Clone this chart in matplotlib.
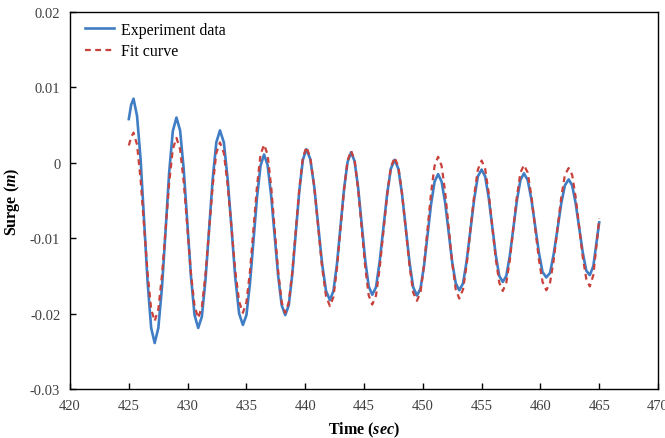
import matplotlib
matplotlib.use('Agg')
from matplotlib import pyplot as plt
import numpy as np

# time axis (sec), shared by both series
time = [425.0, 425.2, 425.4,
        425.7, 426.0, 426.3, 426.6, 426.9, 427.2,
        427.51, 427.82, 428.13, 428.43, 428.74, 429.05,
        429.36, 429.67, 429.98, 430.28, 430.59, 430.9,
        431.21, 431.52, 431.83, 432.13, 432.44, 432.75,
        433.08, 433.40, 433.73, 434.05, 434.38, 434.7,
        435.0, 435.3, 435.6, 435.9, 436.2, 436.5,
        436.8, 437.1, 437.4, 437.7, 438.0, 438.3,
        438.6, 438.9, 439.2, 439.5, 439.8, 440.1,
        440.43, 440.77, 441.1, 441.43, 441.77, 442.1,
        442.4, 442.7, 443.0, 443.3, 443.6, 443.9,
        444.2, 444.5, 444.8, 445.1, 445.4, 445.7,
        446.02, 446.33, 446.65, 446.97, 447.28, 447.6,
        447.92, 448.23, 448.55, 448.87, 449.18, 449.5,
        449.8, 450.1, 450.4, 450.7, 451.0, 451.3,
        451.6, 451.9, 452.2, 452.5, 452.8, 453.1,
        453.42, 453.73, 454.05, 454.37, 454.68, 455.0,
        455.3, 455.6, 455.9, 456.2, 456.5, 456.8,
        457.1, 457.4, 457.7, 458.0, 458.3, 458.6,
        458.92, 459.23, 459.55, 459.87, 460.18, 460.5,
        460.82, 461.13, 461.45, 461.77, 462.08, 462.4,
        462.7, 463.0, 463.3, 463.6, 463.9, 464.2,
        464.5, 464.75, 465.0]

# experiment data (m)
experiment = [0.0058, 0.0077, 0.0085,
              0.0062, 0.0005, -0.0078, -0.0159, -0.0219, -0.0239,
              -0.0219, -0.0165, -0.0089, -0.0013, 0.0042, 0.0060,
              0.0043, -0.0009, -0.0080, -0.0150, -0.0202, -0.0219,
              -0.0204, -0.0155, -0.0088, -0.0022, 0.0027, 0.0043,
              0.0027, -0.0021, -0.0086, -0.0152, -0.0200, -0.0215,
              -0.0202, -0.0160, -0.0103, -0.0046, -0.0004, 0.0011,
              -0.0003, -0.0043, -0.0096, -0.0150, -0.0189, -0.0202,
              -0.0189, -0.0148, -0.0093, -0.0037, 0.0004, 0.0018,
              0.0005, -0.0032, -0.0082, -0.0133, -0.0170, -0.0182,
              -0.0170, -0.0134, -0.0084, -0.0035, 0.0001, 0.0014,
              0.0002, -0.0033, -0.0081, -0.0129, -0.0164, -0.0175,
              -0.0165, -0.0131, -0.0086, -0.0041, -0.0008, 0.0004,
              -0.0008, -0.0041, -0.0086, -0.0132, -0.0165, -0.0176,
              -0.0167, -0.0137, -0.0096, -0.0055, -0.0025, -0.0015,
              -0.0025, -0.0053, -0.0093, -0.0132, -0.0160, -0.0169,
              -0.0160, -0.0130, -0.0089, -0.0048, -0.0018, -0.0009,
              -0.0018, -0.0046, -0.0084, -0.0122, -0.0150, -0.0158,
              -0.0150, -0.0123, -0.0087, -0.0050, -0.0023, -0.0014,
              -0.0023, -0.0048, -0.0084, -0.0119, -0.0145, -0.0152,
              -0.0146, -0.0121, -0.0088, -0.0054, -0.0030, -0.0022,
              -0.0030, -0.0054, -0.0086, -0.0119, -0.0143, -0.0149,
              -0.0137, -0.0108, -0.0079]

# fit curve (m)
fit = [0.0023, 0.0034, 0.0040,
       0.0024, -0.0022, -0.0085, -0.0147, -0.0194, -0.0210,
       -0.0194, -0.0149, -0.0088, -0.0027, 0.0018, 0.0033,
       0.0018, -0.0026, -0.0086, -0.0146, -0.0190, -0.0206,
       -0.0191, -0.0148, -0.0089, -0.0031, 0.0013, 0.0027,
       0.0013, -0.0029, -0.0086, -0.0143, -0.0184, -0.0199,
       -0.0185, -0.0144, -0.0087, -0.0031, 0.0011, 0.0024,
       0.0011, -0.0031, -0.0087, -0.0144, -0.0185, -0.0199,
       -0.0185, -0.0145, -0.0089, -0.0034, 0.0007, 0.0021,
       0.0007, -0.0032, -0.0085, -0.0138, -0.0177, -0.0190,
       -0.0178, -0.0140, -0.0087, -0.0036, 0.0003, 0.0016,
       0.0003, -0.0035, -0.0086, -0.0138, -0.0176, -0.0188,
       -0.0176, -0.0140, -0.0091, -0.0042, -0.0006, 0.0007,
       -0.0005, -0.0041, -0.0088, -0.0137, -0.0172, -0.0183,
       -0.0172, -0.0136, -0.0088, -0.0040, -0.0004, 0.0008,
       -0.0004, -0.0039, -0.0086, -0.0133, -0.0168, -0.0180,
       -0.0168, -0.0135, -0.0088, -0.0043, -0.0009, 0.0003,
       -0.0008, -0.0040, -0.0083, -0.0127, -0.0159, -0.0170,
       -0.0159, -0.0129, -0.0086, -0.0045, -0.0013, -0.0003,
       -0.0013, -0.0044, -0.0086, -0.0128, -0.0158, -0.0169,
       -0.0159, -0.0129, -0.0088, -0.0046, -0.0016, -0.0007,
       -0.0016, -0.0046, -0.0085, -0.0125, -0.0154, -0.0164,
       -0.0149, -0.0112, -0.0074]

xticks = [420, 425, 430, 435, 440, 445, 450, 455, 460, 465, 470]
yticks = [-0.03, -0.02, -0.01, 0, 0.01, 0.02]
ytick_labels = ['-0.03', '-0.02', '-0.01', '0', '0.01', '0.02']

plt.rcParams['font.family'] = ['Liberation Serif', 'DejaVu Serif']
plt.rcParams['mathtext.fontset'] = 'custom'
plt.rcParams['mathtext.rm'] = 'Liberation Serif:bold'
plt.rcParams['mathtext.it'] = 'Liberation Serif:italic:bold'
plt.rcParams['mathtext.bf'] = 'Liberation Serif:bold'

fig = plt.figure(figsize=(6.65, 4.39), dpi=100)
ax = fig.add_axes([0.1053, 0.1116, 0.8842, 0.8588])

ax.plot(time, experiment, color='#3F7DC4', lw=1.9, label='Experiment data')
ax.plot(time, fit, color='#C8413C', lw=1.6, dashes=(2.6, 2.0), label='Fit curve')

ax.set_xlim(420, 470)
ax.set_ylim(-0.03, 0.02)
ax.set_xticks(xticks)
ax.set_yticks(yticks)
ax.set_yticklabels(ytick_labels)
ax.tick_params(direction='in', length=4, width=1, labelsize=10.5, colors='black',
               labelcolor='#404040', pad=7)
for s in ax.spines.values():
    s.set_linewidth(1.0)

ax.set_xlabel(r'Time ($\mathit{sec}$)', fontsize=11.5, fontweight='bold', labelpad=6)
ax.set_ylabel(r'Surge ($\mathit{m}$)', fontsize=11.5, fontweight='bold', labelpad=6)

ax.legend(loc='upper left', frameon=False, fontsize=11.5, handlelength=1.8,
          handletextpad=0.4, borderaxespad=0.2, labelspacing=0.35,
          bbox_to_anchor=(0.01, 1.0))

fig.savefig('out.png', dpi=100)
